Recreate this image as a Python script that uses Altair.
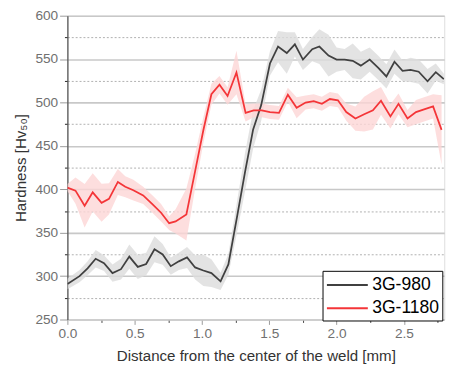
import altair as alt
import pandas as pd

series = ["3G-980", "3G-1180"]
line_colors = ["#404040", "#f43538"]
band_colors = ["#dcdcdc", "#fcd6d6"]

x980 = [0.0, 0.09, 0.15, 0.21, 0.272, 0.335, 0.398, 0.46, 0.523, 0.585, 0.647, 0.708,
        0.768, 0.828, 0.889, 0.949, 1.01, 1.07, 1.138, 1.196, 1.26, 1.32, 1.38, 1.44,
        1.505, 1.565, 1.63, 1.69, 1.75, 1.819, 1.872, 1.94, 2.0, 2.06, 2.12, 2.18,
        2.246, 2.31, 2.37, 2.43, 2.49, 2.55, 2.61, 2.676, 2.737, 2.797]
y980 = [291, 300, 309, 320, 315, 303.5, 308, 322.5, 310.6, 314, 331, 325,
        311.5, 317, 321.5, 310, 306.5, 303.5, 294, 313.5, 368, 420, 469, 497,
        545, 564.5, 557, 567, 549.5, 561.5, 564.5, 554, 549.5, 549.5, 548, 542.5,
        549.5, 540, 530, 547, 536.5, 537.5, 535.5, 524.5, 535, 527]
e980 = [6, 7, 8, 10, 9, 10, 12, 14, 14, 13, 15, 12,
        10, 10, 12, 14, 18, 16, 10, 12, 18, 22, 22, 18,
        14, 18, 24, 14, 12, 14, 20, 24, 14, 12, 20, 16,
        14, 14, 14, 14, 12, 14, 14, 14, 10, 6]

x1180 = [0.0, 0.06, 0.128, 0.188, 0.254, 0.309, 0.375, 0.43, 0.49, 0.563, 0.635, 0.696,
         0.756, 0.804, 0.884, 0.949, 1.01, 1.07, 1.13, 1.19, 1.256, 1.324, 1.384, 1.444,
         1.505, 1.572, 1.638, 1.703, 1.77, 1.83, 1.891, 1.95, 2.01, 2.072, 2.14, 2.205,
         2.27, 2.33, 2.4, 2.46, 2.527, 2.59, 2.65, 2.717, 2.78]
y1180 = [402, 398.5, 381, 396.5, 384.5, 389, 408.5, 403, 399, 393, 382.5, 373,
         361, 363, 371, 421, 468, 509.5, 520.5, 507.5, 534.5, 488, 491, 491,
         489, 488, 509, 494, 500, 501.5, 498.5, 504, 502.5, 489, 481.5, 486.5,
         491, 502, 484, 498.5, 481.5, 489, 492, 495.5, 468.5]
e1180 = [4, 15, 25, 22, 22, 18, 15, 12, 12, 10, 10, 10,
         8, 14, 30, 20, 15, 12, 10, 10, 25, 10, 8, 8,
         8, 8, 8, 12, 8, 8, 8, 8, 8, 10, 14, 20,
         22, 16, 14, 12, 10, 14, 14, 14, 40]

y_major = [250, 300, 350, 400, 450, 500, 550, 600]
y_minor = [275, 325, 375, 425, 475, 525, 575]
x_major = [0.0, 0.5, 1.0, 1.5, 2.0, 2.5]
x_minor = [0.25, 0.75, 1.25, 1.75, 2.25, 2.75]

rows = []
for name, xs, ys, es in [(series[0], x980, y980, e980), (series[1], x1180, y1180, e1180)]:
    for i, (xv, yv, ev) in enumerate(zip(xs, ys, es)):
        rows.append({"series": name, "band": name + " band", "x": xv, "y": yv,
                     "lo": yv - ev, "hi": yv + ev, "i": i})
df = pd.DataFrame(rows)

FONT = "Liberation Sans"

xscale = alt.Scale(domain=[0, 2.8], nice=False, zero=False)
yscale = alt.Scale(domain=[250, 600], nice=False, zero=False)

base = alt.Chart(df)

# minor dotted gridlines + minor ticks (separate axis layer)
minor = base.mark_point(opacity=0).encode(
    x=alt.X("x:Q", scale=xscale, axis=alt.Axis(
        orient="bottom", values=x_minor, labels=False, title=None, grid=False, domain=False,
        tickSize=3, tickColor="#444444", tickWidth=1)),
    y=alt.Y("y:Q", scale=yscale, axis=alt.Axis(
        orient="left", values=y_minor, labels=False, title=None, domain=False,
        grid=True, gridColor="#9a9a9a", gridWidth=0.8, gridDash=[2, 2],
        tickSize=3, tickColor="#222222", tickWidth=1)),
)

bands = base.mark_area(clip=True, opacity=0.8).encode(
    x=alt.X("x:Q", scale=xscale, axis=alt.Axis(
        orient="bottom", values=x_major, format=".1f",
        title="Distance from the center of the weld [mm]",
        grid=False, labelFlush=False, domainColor="#cccccc", domainWidth=1.5,
        tickSize=5, tickColor="#999999",
        labelFont=FONT, labelFontSize=14, labelColor="#707070", labelPadding=2,
        titleFont=FONT, titleFontSize=15.5, titleColor="#333333",
        titleFontWeight="normal", titlePadding=9)),
    y=alt.Y("lo:Q", scale=yscale, axis=alt.Axis(
        orient="left", values=y_major, title="Hardness [Hv₅₀]",
        grid=True, gridColor="#c8c8c8", gridWidth=1.6,
        domainColor="#555555", domainWidth=1.3, tickSize=8, tickColor="#999999",
        labelFont=FONT, labelFontSize=14, labelColor="#707070", labelPadding=2,
        titleFont=FONT, titleFontSize=15.5, titleColor="#333333",
        titleFontWeight="normal", titlePadding=7)),
    y2="hi:Q",
    fill=alt.Fill("band:N", scale=alt.Scale(domain=[s + " band" for s in series], range=band_colors),
                  legend=None),
)

lines = base.mark_line(clip=True, strokeWidth=1.8).encode(
    x=alt.X("x:Q", scale=xscale, axis=None),
    y=alt.Y("y:Q", scale=yscale, axis=None),
    stroke=alt.Stroke(
        "series:N",
        scale=alt.Scale(domain=series, range=line_colors),
        sort=series,
        legend=alt.Legend(
            title=None, orient="none", legendX=262, legendY=262, direction="vertical",
            fillColor="white", strokeColor="black", padding=3,
            symbolType="M-2,0H2", symbolSize=441, symbolStrokeWidth=2,
            symbolOffset=11,
            labelFontSize=18, labelFont=FONT, labelColor="black",
            labelOffset=14, rowPadding=3,
        ),
    ),
    order="i:Q",
)

chart = alt.layer(minor, bands, lines).resolve_axis(x="independent", y="independent").properties(
    width=387, height=312,
    autosize=alt.AutoSizeParams(type="none"),
    padding={"left": 61, "top": 3, "right": 10, "bottom": 50},
).configure_view(stroke="#8a8a8a", strokeWidth=1.5).configure(background="white")

chart.save("out.html", embed_options={"renderer": "svg", "actions": False})
